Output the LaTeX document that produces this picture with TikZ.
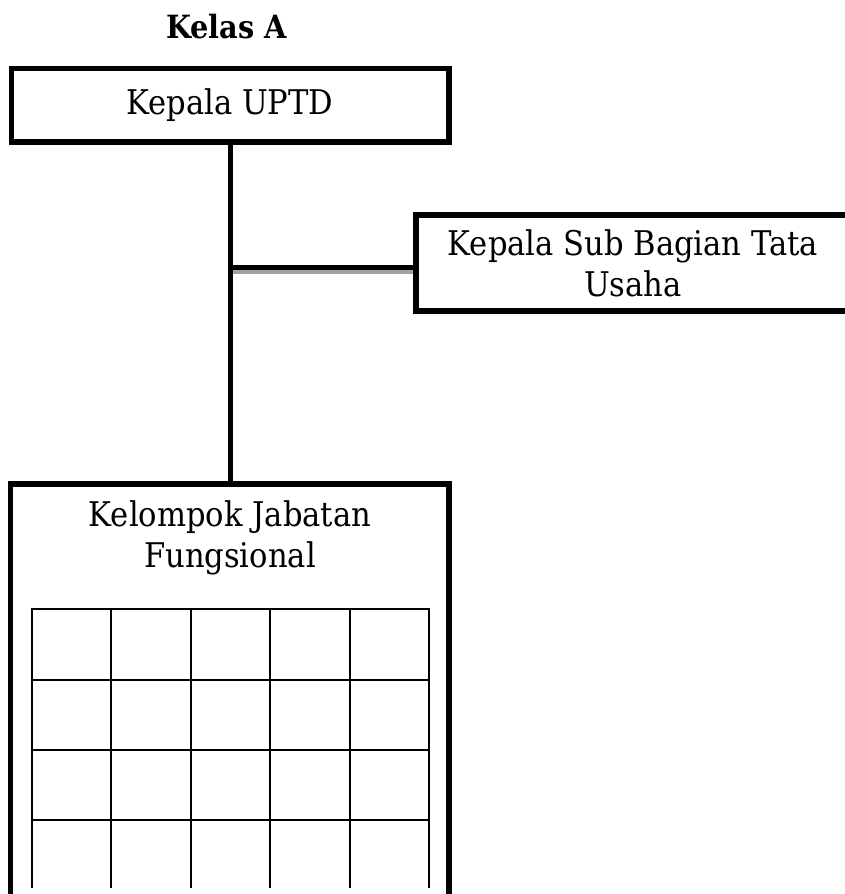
\documentclass[tikz,border=0pt]{standalone}
\usepackage{fontspec}
\setmainfont[FakeStretch=0.9]{DejaVu Serif}
\usetikzlibrary{calc}

\tikzset{
	unitbox/.style={draw, rectangle, line width=5.5pt, inner sep=0pt, align=center, font=\fontsize{34}{41}\selectfont},
	labeltext/.style={align=center, font=\fontsize{34}{41}\selectfont},
	trunkline/.style={line width=5pt},
	shadowline/.style={line width=4pt, color=black!37},
	gridline/.style={line width=2pt, line cap=rect},
}

\begin{document}
\begin{tikzpicture}[x=1pt, y=-1pt]
			%%%%% START %%%%%
			\useasboundingbox (0, 0) rectangle (845, 894);
			\clip (0, 0) rectangle (845, 894);
			
			\node[font=\fontsize{32}{38}\selectfont\bfseries] (kelas) at (226.5, 27) {Kelas A};
			
			\node[unitbox, minimum width=437.5pt, minimum height=73.5pt] (kepala) at (230, 105) {Kepala UPTD};
			\node[unitbox, minimum width=434pt, minimum height=96pt] (subbag) at (633, 263) {Kepala Sub Bagian Tata\\Usaha};
			
			\node[unitbox, minimum width=438.5pt, minimum height=460pt, anchor=north] (kjf) at (229.75, 481) {};
			\node[labeltext] (kjfText) at (230, 537.5) {Kelompok Jabatan\\Fungsional};
			
			\coordinate (branchEnd) at ([yshift=-4.5pt]subbag.west);
			\coordinate (shadowEnd) at ([yshift=-4.5pt]branchEnd);
			\draw[shadowline] (shadowEnd -| kepala.south) -- (shadowEnd);
			\draw[trunkline] (kepala.south) -- (kepala.south |- kjf.north);
			\draw[trunkline] (branchEnd -| kepala.south) -- (branchEnd);
			
			\foreach \row in {609, 679.5, 750, 820}
				\draw[gridline] (32, \row) -- (429, \row);
			\foreach \col in {0, ..., 5}
				\draw[gridline] (32+79.4*\col, 609) -- (32+79.4*\col, 887);
			
			%%%%% END %%%%%
\end{tikzpicture}
\end{document}
